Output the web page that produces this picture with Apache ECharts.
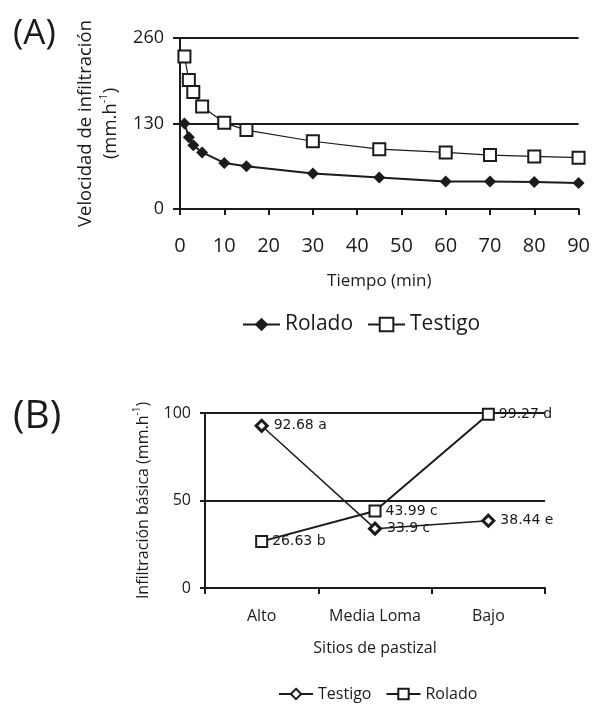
<!DOCTYPE html>
<html>
<head>
<meta charset="utf-8">
<script src="https://cdn.jsdelivr.net/npm/echarts@6/dist/echarts.min.js"></script>
<style>
  html, body { margin: 0; padding: 0; background: #fff; }
  #chartA { position: absolute; left: 0; top: 0; width: 593px; height: 352px; }
  #chartB { position: absolute; left: 0; top: 352px; width: 593px; height: 352px; }
</style>
</head>
<body>
<div id="chartA"></div>
<div id="chartB"></div>
<script>
// (A) velocidad de infiltración vs tiempo
const tiempo = [1, 2, 3, 5, 10, 15, 30, 45, 60, 70, 80, 90]
const roladoA = [130, 109, 97, 86, 70, 65, 54, 48, 42, 42, 41, 39.5]
const testigoA = [232, 196, 178, 156, 131, 120, 103, 91, 86, 82, 80, 78]
const ticksA = [0, 130, 260]

// (B) infiltración básica por sitio
const sitios = ['Alto', 'Media Loma', 'Bajo']
const testigoB = [92.68, 33.9, 38.44]
const roladoB = [26.63, 43.99, 99.27]
const letrasTestigo = ['a', 'c', 'e']
const letrasRolado = ['b', 'c', 'd']

const ink = '#1c1a1a'
const font = 'Open Sans'

function pairs(xs, ys) {
  return xs.map((x, i) => [x, ys[i]])
}

const chartA = echarts.init(document.getElementById('chartA'))
chartA.setOption({
  animation: false,
  title: {
    text: '(A)',
    left: 8,
    top: 12,
    textStyle: { fontFamily: font, fontSize: 35, fontWeight: 'normal', color: ink }
  },
  grid: { left: 180, top: 38, width: 401, height: 171 },
  legend: {
    left: 237,
    top: 309,
    itemWidth: 37,
    itemHeight: 17,
    itemGap: 14,
    textStyle: { fontFamily: font, fontSize: 21, color: ink },
    data: ['Rolado', 'Testigo']
  },
  xAxis: {
    type: 'value',
    min: 0,
    max: 90,
    interval: 10,
    name: 'Tiempo (min)',
    nameLocation: 'middle',
    nameGap: 64,
    nameTextStyle: { fontFamily: font, fontSize: 17, color: ink },
    axisLine: { show: true, lineStyle: { color: ink, width: 2 } },
    axisTick: { show: true, length: 6, lineStyle: { color: ink, width: 2 } },
    axisLabel: { margin: 27, fontFamily: font, fontSize: 20, color: ink },
    splitLine: { show: false }
  },
  yAxis: {
    type: 'value',
    min: 0,
    max: 260,
    interval: 130,
    name: '{t|Velocidad de infiltración}\n{t|(mm.h}{s|-1}{t|)}',
    nameLocation: 'middle',
    nameRotate: 90,
    nameGap: 57,
    nameTextStyle: {
      rich: {
        t: { fontFamily: font, fontSize: 18.5, color: ink, lineHeight: 25 },
        s: { fontFamily: font, fontSize: 11, color: ink, verticalAlign: 'top', lineHeight: 15 }
      }
    },
    axisLine: { show: true, lineStyle: { color: ink, width: 2 } },
    axisTick: { show: true, length: 7, lineStyle: { color: ink, width: 2 } },
    axisLabel: {
      margin: 16,
      fontFamily: font,
      fontSize: 18,
      color: ink,
      customValues: ticksA
    },
    splitLine: { show: true, lineStyle: { color: ink, width: 2 } }
  },
  series: [
    {
      name: 'Rolado',
      type: 'line',
      data: pairs(tiempo, roladoA),
      symbol: 'diamond',
      symbolSize: 12,
      itemStyle: { color: ink },
      lineStyle: { color: ink, width: 2 },
      z: 3
    },
    {
      name: 'Testigo',
      type: 'line',
      data: pairs(tiempo, testigoA),
      symbol: 'rect',
      symbolSize: 12,
      itemStyle: { color: '#fff', borderColor: ink, borderWidth: 2 },
      lineStyle: { color: ink, width: 1.2 },
      z: 4
    }
  ]
})

const chartB = echarts.init(document.getElementById('chartB'))
chartB.setOption({
  animation: false,
  title: {
    text: '(B)',
    left: 8,
    top: 40,
    textStyle: { fontFamily: font, fontSize: 39, fontWeight: 'normal', color: ink }
  },
  grid: { left: 205, top: 61, width: 340, height: 175 },
  legend: {
    left: 273,
    top: 329,
    itemWidth: 34,
    itemHeight: 13,
    itemGap: 14,
    textStyle: { fontFamily: font, fontSize: 16, color: ink },
    data: ['Testigo', 'Rolado']
  },
  xAxis: {
    type: 'category',
    data: sitios,
    boundaryGap: true,
    name: 'Sitios de pastizal',
    nameLocation: 'middle',
    nameGap: 52,
    nameTextStyle: { fontFamily: font, fontSize: 16, color: ink },
    axisLine: { show: true, lineStyle: { color: ink, width: 2 } },
    axisTick: { show: true, length: 6, lineStyle: { color: ink, width: 2 } },
    axisLabel: { interval: 0, margin: 20, fontFamily: font, fontSize: 16, color: ink },
    splitLine: { show: false }
  },
  yAxis: {
    type: 'value',
    min: 0,
    max: 100,
    interval: 50,
    name: '{t|Infiltración básica (mm.h}{s|-1}{t|)}',
    nameLocation: 'middle',
    nameRotate: 90,
    nameGap: 51,
    nameTextStyle: {
      rich: {
        t: { fontFamily: font, fontSize: 16, color: ink, lineHeight: 22 },
        s: { fontFamily: font, fontSize: 10, color: ink, verticalAlign: 'top', lineHeight: 13 }
      }
    },
    axisLine: { show: true, lineStyle: { color: ink, width: 2 } },
    axisTick: { show: true, length: 5, lineStyle: { color: ink, width: 2 } },
    axisLabel: { margin: 14, fontFamily: font, fontSize: 16, color: ink },
    splitLine: { show: true, lineStyle: { color: ink, width: 2 } }
  },
  series: [
    {
      name: 'Testigo',
      type: 'line',
      data: testigoB,
      symbol: 'diamond',
      symbolSize: 11,
      itemStyle: { color: '#fff', borderColor: ink, borderWidth: 3 },
      lineStyle: { color: ink, width: 1.5 },
      label: {
        show: true,
        position: 'right',
        distance: 5,
        fontFamily: 'DejaVu Sans',
        fontSize: 14,
        color: ink,
        formatter: p => p.value + ' ' + letrasTestigo[p.dataIndex]
      },
      z: 3
    },
    {
      name: 'Rolado',
      type: 'line',
      data: roladoB,
      symbol: 'rect',
      symbolSize: 11,
      itemStyle: { color: '#fff', borderColor: ink, borderWidth: 2 },
      lineStyle: { color: ink, width: 2 },
      label: {
        show: true,
        position: 'right',
        distance: 4,
        fontFamily: 'DejaVu Sans',
        fontSize: 14,
        color: ink,
        formatter: p => p.value + ' ' + letrasRolado[p.dataIndex]
      },
      z: 4
    }
  ]
})
</script>
</body>
</html>
